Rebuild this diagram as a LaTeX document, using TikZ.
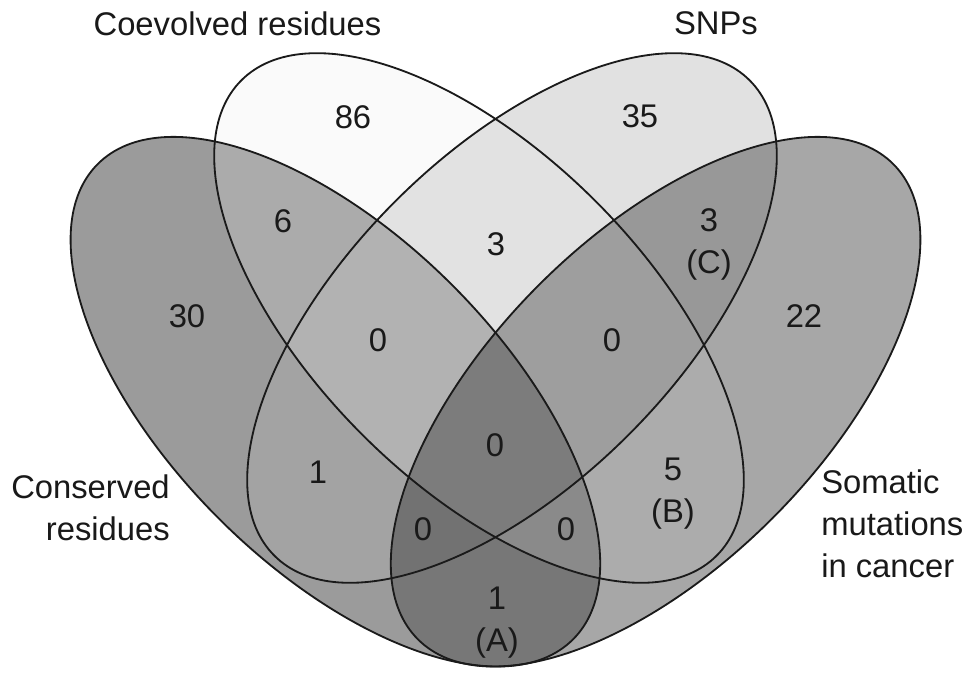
\documentclass[tikz,border=0pt]{standalone}
\usepackage{fontspec}
\setmainfont{Liberation Sans}
\definecolor{rC}{HTML}{9B9B9B}
\definecolor{rCo}{HTML}{FAFAFA}
\definecolor{rS}{HTML}{E1E1E1}
\definecolor{rM}{HTML}{A7A7A7}
\definecolor{rCCo}{HTML}{ABABAB}
\definecolor{rCS}{HTML}{A3A3A3}
\definecolor{rCM}{HTML}{777777}
\definecolor{rCoS}{HTML}{E2E2E2}
\definecolor{rCoM}{HTML}{ACACAC}
\definecolor{rSM}{HTML}{989898}
\definecolor{rCCoS}{HTML}{B2B2B2}
\definecolor{rCCoM}{HTML}{8A8A8A}
\definecolor{rCSM}{HTML}{727272}
\definecolor{rCoSM}{HTML}{9E9E9E}
\definecolor{rAll}{HTML}{7C7C7C}
\definecolor{edge}{HTML}{1A1A1A}
\begin{document}
\begin{tikzpicture}[x=0.025cm,y=-0.025cm,
  lbl/.style={font=\fontsize{23.3}{29.9}\selectfont, inner sep=0pt, text=black!90},
  outline/.style={draw=edge, line width=1.3pt}]
\useasboundingbox[fill=white] (0,0) rectangle (976,682);
\def\ellC{(335.4,401.7) ellipse [x radius=8.4cm, y radius=4.125cm, rotate=-45]}
\def\ellCo{(479,318) ellipse [x radius=8.4cm, y radius=4.125cm, rotate=-45]}
\def\ellS{(512,318) ellipse [x radius=8.4cm, y radius=4.125cm, rotate=45]}
\def\ellM{(655.6,401.7) ellipse [x radius=8.4cm, y radius=4.125cm, rotate=45]}
% single sets
\fill[rC] \ellC;
\fill[rCo] \ellCo;
\fill[rS] \ellS;
\fill[rM] \ellM;
% pairs
\begin{scope}\clip \ellC; \fill[rCCo] \ellCo;\end{scope}
\begin{scope}\clip \ellC; \fill[rCS] \ellS;\end{scope}
\begin{scope}\clip \ellC; \fill[rCM] \ellM;\end{scope}
\begin{scope}\clip \ellCo; \fill[rCoS] \ellS;\end{scope}
\begin{scope}\clip \ellCo; \fill[rCoM] \ellM;\end{scope}
\begin{scope}\clip \ellS; \fill[rSM] \ellM;\end{scope}
% triples
\begin{scope}\clip \ellC; \clip \ellCo; \fill[rCCoS] \ellS;\end{scope}
\begin{scope}\clip \ellC; \clip \ellCo; \fill[rCCoM] \ellM;\end{scope}
\begin{scope}\clip \ellC; \clip \ellS; \fill[rCSM] \ellM;\end{scope}
\begin{scope}\clip \ellCo; \clip \ellS; \fill[rCoSM] \ellM;\end{scope}
% all four
\begin{scope}\clip \ellC; \clip \ellCo; \clip \ellS; \fill[rAll] \ellM;\end{scope}
% outlines
\draw[outline] \ellC;
\draw[outline] \ellCo;
\draw[outline] \ellS;
\draw[outline] \ellM;
% set labels
\node[lbl, anchor=base] (tCo) at (237.5,36) {Coevolved residues};
\node[lbl, anchor=base] (tS) at (716,35) {SNPs};
\node[lbl, anchor=east, align=right] (tC) at (170,508) {Conserved\\residues};
\node[lbl, anchor=west, align=left] (tM) at (821,524) {Somatic\\mutations\\in cancer};
% region counts
\node[lbl, anchor=base] (n86) at (353,129) {86};
\node[lbl, anchor=base] (n35) at (640,128) {35};
\node[lbl, anchor=base] (n6) at (283,233) {6};
\node[lbl, anchor=base] (n3) at (496,256) {3};
\node[lbl, anchor=base] (n30) at (187,328) {30};
\node[lbl, anchor=base] (n22) at (804,328) {22};
\node[lbl, align=center] (n3C) at (709,244.7) {3\\(C)};
\node[lbl, anchor=base] (n0l) at (378,352) {0};
\node[lbl, anchor=base] (n0r) at (612,352) {0};
\node[lbl, anchor=base] (n0c) at (495,457) {0};
\node[lbl, anchor=base] (n1) at (318,484) {1};
\node[lbl, align=center] (n5B) at (673,493.7) {5\\(B)};
\node[lbl, anchor=base] (n0bl) at (423,541) {0};
\node[lbl, anchor=base] (n0br) at (566,541) {0};
\node[lbl, align=center] (n1A) at (497,622.7) {1\\(A)};
\end{tikzpicture}
\end{document}
